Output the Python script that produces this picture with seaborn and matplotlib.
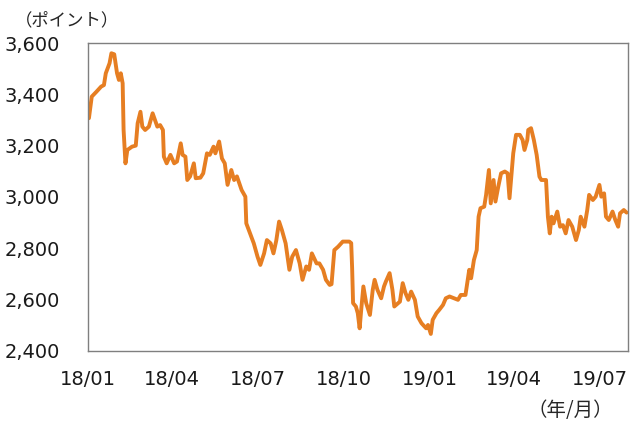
import matplotlib
matplotlib.use("Agg")
import matplotlib.pyplot as plt
import matplotlib.dates as mdates
import pandas as pd
import seaborn as sns

dates = [
    "2018-01-02", "2018-01-05", "2018-01-10", "2018-01-15", "2018-01-18", "2018-01-20",
    "2018-01-24", "2018-01-26", "2018-01-29", "2018-02-01", "2018-02-03", "2018-02-05",
    "2018-02-07", "2018-02-08", "2018-02-10", "2018-02-12", "2018-02-17", "2018-02-21",
    "2018-02-23", "2018-02-26", "2018-02-28", "2018-03-03", "2018-03-07", "2018-03-11",
    "2018-03-16", "2018-03-19", "2018-03-22", "2018-03-23", "2018-03-26", "2018-03-30",
    "2018-04-03", "2018-04-06", "2018-04-10", "2018-04-12", "2018-04-15", "2018-04-17",
    "2018-04-20", "2018-04-24", "2018-04-26", "2018-05-01", "2018-05-04", "2018-05-08",
    "2018-05-11", "2018-05-15", "2018-05-17", "2018-05-21", "2018-05-24", "2018-05-27",
    "2018-05-30", "2018-06-03", "2018-06-06", "2018-06-09", "2018-06-14", "2018-06-18",
    "2018-06-19", "2018-06-23", "2018-06-27", "2018-07-01", "2018-07-04", "2018-07-08",
    "2018-07-11", "2018-07-15", "2018-07-18", "2018-07-21", "2018-07-24", "2018-07-27",
    "2018-07-31", "2018-08-04", "2018-08-07", "2018-08-11", "2018-08-15", "2018-08-18",
    "2018-08-22", "2018-08-25", "2018-08-28", "2018-09-02", "2018-09-05", "2018-09-09",
    "2018-09-12", "2018-09-16", "2018-09-18", "2018-09-21", "2018-09-25", "2018-09-30",
    "2018-10-07", "2018-10-09", "2018-10-10", "2018-10-11", "2018-10-14", "2018-10-16",
    "2018-10-18", "2018-10-20", "2018-10-22", "2018-10-25", "2018-10-29", "2018-11-01",
    "2018-11-03", "2018-11-06", "2018-11-10", "2018-11-13", "2018-11-15", "2018-11-19",
    "2018-11-22", "2018-11-24", "2018-11-30", "2018-12-03", "2018-12-06", "2018-12-09",
    "2018-12-12", "2018-12-16", "2018-12-19", "2018-12-23", "2018-12-28", "2018-12-30",
    "2019-01-02", "2019-01-04", "2019-01-08", "2019-01-11", "2019-01-15", "2019-01-18",
    "2019-01-22", "2019-01-27", "2019-01-31", "2019-02-03", "2019-02-08", "2019-02-12",
    "2019-02-14", "2019-02-17", "2019-02-20", "2019-02-22", "2019-02-24", "2019-02-28",
    "2019-03-02", "2019-03-05", "2019-03-07", "2019-03-10", "2019-03-12", "2019-03-15",
    "2019-03-18", "2019-03-22", "2019-03-25", "2019-03-27", "2019-03-29", "2019-03-31",
    "2019-04-03", "2019-04-07", "2019-04-10", "2019-04-12", "2019-04-15", "2019-04-16",
    "2019-04-19", "2019-04-22", "2019-04-25", "2019-04-28", "2019-04-30", "2019-05-05",
    "2019-05-07", "2019-05-09", "2019-05-11", "2019-05-13", "2019-05-17", "2019-05-20",
    "2019-05-23", "2019-05-26", "2019-05-29", "2019-06-02", "2019-06-06", "2019-06-09",
    "2019-06-11", "2019-06-15", "2019-06-18", "2019-06-20", "2019-06-24", "2019-06-27",
    "2019-07-01", "2019-07-03", "2019-07-06", "2019-07-08", "2019-07-11", "2019-07-15",
    "2019-07-18", "2019-07-21", "2019-07-23", "2019-07-27", "2019-07-30",
]

points = [
    3307, 3391, 3410, 3430, 3436, 3482,
    3521, 3560, 3556, 3482, 3456, 3482,
    3443, 3261, 3131, 3183, 3196, 3200,
    3287, 3332, 3274, 3261, 3274, 3326,
    3274, 3280, 3261, 3157, 3131, 3164,
    3131, 3138, 3209, 3164, 3157, 3066,
    3080, 3131, 3073, 3075, 3092, 3170,
    3164, 3196, 3170, 3216, 3150, 3131,
    3047, 3105, 3066, 3080, 3027, 3001,
    2897, 2858, 2819, 2767, 2735, 2780,
    2832, 2819, 2780, 2830, 2904, 2871,
    2819, 2716, 2767, 2793, 2741, 2677,
    2729, 2716, 2780, 2741, 2741, 2716,
    2677, 2657, 2660, 2793, 2806, 2826,
    2826, 2820, 2722, 2586, 2573, 2547,
    2488, 2573, 2651, 2586, 2540, 2638,
    2677, 2638, 2605, 2651, 2670, 2703,
    2638, 2573, 2592, 2664, 2625, 2599,
    2631, 2599, 2534, 2508, 2488, 2501,
    2466, 2521, 2547, 2560, 2579, 2605,
    2612, 2605, 2599, 2618, 2618, 2716,
    2683, 2754, 2793, 2923, 2956, 2962,
    3008, 3105, 2975, 3066, 2982, 3040,
    3092, 3099, 3092, 2995, 3085, 3170,
    3242, 3242, 3222, 3183, 3222, 3261,
    3268, 3222, 3164, 3079, 3066, 3066,
    2923, 2858, 2923, 2897, 2943, 2884,
    2890, 2858, 2910, 2884, 2832, 2871,
    2923, 2884, 2949, 3008, 2988, 3001,
    3047, 3001, 3014, 2923, 2910, 2943,
    2910, 2884, 2936, 2949, 2939,
]

y_ticks = [2400, 2600, 2800, 3000, 3200, 3400, 3600]

df = pd.DataFrame({"date": pd.to_datetime(dates), "points": points})

sns.set_style("white")
plt.rcParams["font.family"] = ["DejaVu Sans", "Noto Sans CJK JP"]

fig = plt.figure(figsize=(6.4, 4.3), dpi=100)
ax = fig.add_axes([0.1375, 0.184, 0.843, 0.716])

sns.lineplot(data=df, x="date", y="points", color="#E67E22", linewidth=2.8, ax=ax)

ax.set_xlim(pd.Timestamp("2018-01-01"), pd.Timestamp("2019-07-31"))
ax.set_ylim(2400, 3600)
ax.set_yticks(y_ticks)
ax.set_yticklabels([f"{v:,}" for v in y_ticks])
ax.xaxis.set_major_locator(mdates.MonthLocator(bymonth=[1, 4, 7, 10]))
ax.xaxis.set_major_formatter(mdates.DateFormatter("%y/%m"))
ax.set(xlabel="", ylabel="")

for side in ["top", "right", "bottom", "left"]:
    ax.spines[side].set_visible(True)
    ax.spines[side].set_color("#7f7f7f")
    ax.spines[side].set_linewidth(1.0)

ax.tick_params(axis="both", direction="in", length=4, width=0.8, color="#7f7f7f",
               labelsize=14, labelcolor="#1a1a1a")
ax.tick_params(axis="y", pad=20)
ax.tick_params(axis="x", pad=14)

jp = ["Noto Sans CJK JP", "DejaVu Sans"]
fig.text(0.024, 0.953, "（ポイント）", fontsize=12.5, ha="left", va="center", family=jp)
fig.text(0.891, 0.0465, "（年/月）", fontsize=14, ha="center", va="center", family=jp)

fig.savefig("out.png", dpi=100)
